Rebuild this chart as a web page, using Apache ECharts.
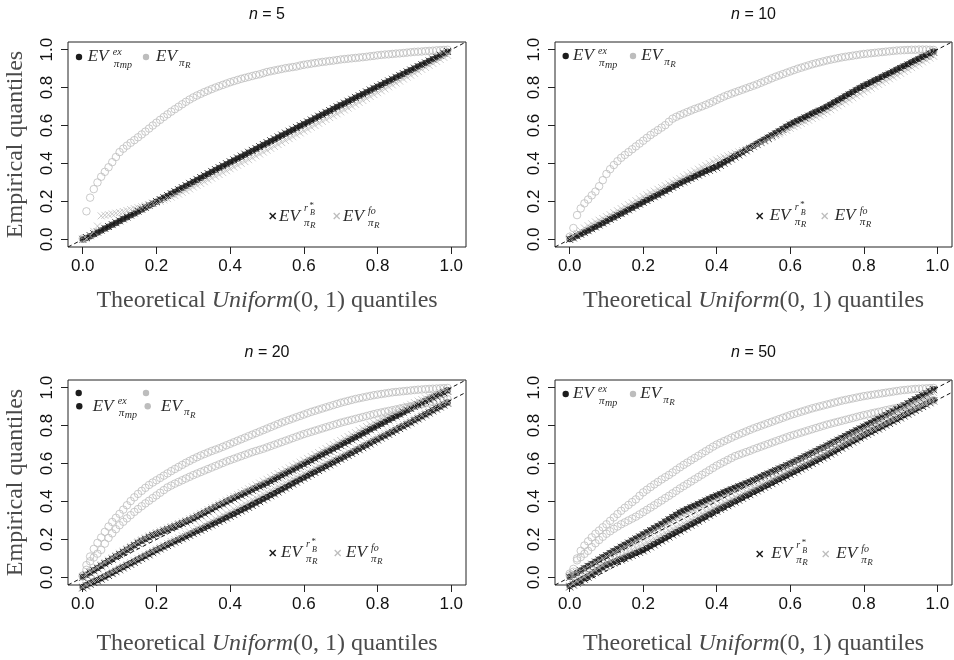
<!DOCTYPE html>
<html>
<head>
<meta charset="utf-8">
<script src="https://cdn.jsdelivr.net/npm/echarts@6/dist/echarts.min.js"></script>
<style>
  html, body { margin: 0; padding: 0; background: #fff; }
  #chart { width: 954px; height: 660px; }
</style>
</head>
<body>
<div id="chart"></div>
<script>
// quantile positions (x) shared by every series
const probs = [
  0.00,0.01,0.02,0.03,0.04,0.05,0.06,0.07,0.08,0.09,
  0.10,0.11,0.12,0.13,0.14,0.15,0.16,0.17,0.18,0.19,
  0.20,0.21,0.22,0.23,0.24,0.25,0.26,0.27,0.28,0.29,
  0.30,0.31,0.32,0.33,0.34,0.35,0.36,0.37,0.38,0.39,
  0.40,0.41,0.42,0.43,0.44,0.45,0.46,0.47,0.48,0.49,
  0.50,0.51,0.52,0.53,0.54,0.55,0.56,0.57,0.58,0.59,
  0.60,0.61,0.62,0.63,0.64,0.65,0.66,0.67,0.68,0.69,
  0.70,0.71,0.72,0.73,0.74,0.75,0.76,0.77,0.78,0.79,
  0.80,0.81,0.82,0.83,0.84,0.85,0.86,0.87,0.88,0.89,
  0.90,0.91,0.92,0.93,0.94,0.95,0.96,0.97,0.98,0.99
]
const ticks = [0, 0.2, 0.4, 0.6, 0.8, 1.0]

// n = 5
const ex5 = [.000,.008,.017,.027,.037,.047,.057,.067,.077,.087,.097,.107,.117,.127,.137,.147,.157,.168,.178,.188,.198,.209,.219,.229,.240,.250,.261,.271,.282,.292,.303,.313,.324,.334,.345,.355,.366,.376,.386,.396,.406,.416,.426,.436,.446,.456,.466,.476,.487,.497,.507,.517,.527,.537,.547,.557,.567,.577,.587,.597,.607,.617,.627,.637,.647,.657,.667,.677,.687,.697,.707,.716,.726,.736,.746,.756,.765,.775,.785,.795,.804,.814,.824,.833,.843,.853,.862,.872,.882,.891,.901,.911,.920,.930,.940,.949,.959,.969,.979,.989]
const R5 = [.005,.148,.220,.265,.300,.330,.356,.380,.407,.434,.460,.478,.494,.509,.523,.538,.553,.568,.584,.600,.615,.630,.645,.659,.673,.686,.699,.712,.725,.737,.748,.758,.767,.776,.784,.792,.800,.807,.814,.821,.828,.834,.840,.846,.851,.856,.861,.866,.870,.876,.882,.886,.890,.894,.898,.902,.905,.908,.911,.916,.920,.923,.926,.929,.932,.935,.937,.940,.942,.945,.948,.950,.952,.954,.956,.958,.960,.962,.965,.967,.970,.972,.974,.975,.977,.979,.980,.982,.984,.986,.988,.989,.990,.992,.993,.994,.996,.997,.998,.999]
const rB5 = [.000,.010,.020,.030,.039,.049,.058,.068,.078,.088,.098,.108,.118,.128,.139,.149,.159,.169,.180,.190,.200,.210,.220,.231,.241,.252,.262,.273,.284,.295,.305,.316,.326,.337,.347,.358,.368,.378,.389,.399,.409,.419,.429,.439,.449,.459,.469,.479,.489,.500,.510,.520,.530,.540,.550,.560,.570,.580,.590,.600,.609,.619,.629,.639,.649,.659,.669,.679,.689,.699,.708,.718,.728,.738,.748,.757,.767,.777,.787,.796,.806,.815,.825,.835,.844,.854,.864,.873,.883,.892,.902,.911,.921,.930,.940,.950,.960,.970,.980,.990]
const fo5 = [.000,.004,.020,.042,.070,.124,.127,.130,.134,.138,.142,.147,.152,.157,.162,.167,.172,.177,.183,.189,.195,.201,.208,.215,.223,.231,.239,.248,.257,.266,.276,.285,.295,.304,.314,.323,.333,.342,.352,.362,.372,.381,.391,.401,.410,.420,.430,.440,.450,.460,.470,.480,.490,.500,.510,.521,.531,.541,.551,.561,.571,.581,.591,.601,.612,.622,.632,.642,.652,.662,.672,.682,.692,.702,.712,.722,.732,.742,.753,.763,.773,.783,.793,.804,.814,.824,.834,.845,.855,.865,.875,.886,.896,.906,.917,.927,.938,.948,.959,.970]

// n = 10
const ex10 = [.002,.010,.019,.028,.038,.047,.057,.067,.077,.087,.097,.107,.117,.127,.137,.147,.157,.167,.177,.187,.197,.207,.217,.227,.237,.247,.257,.267,.277,.287,.297,.306,.315,.324,.333,.342,.351,.360,.368,.376,.384,.395,.406,.417,.428,.439,.450,.461,.472,.483,.494,.505,.516,.527,.538,.549,.560,.571,.583,.595,.606,.616,.625,.635,.644,.653,.663,.672,.681,.690,.700,.711,.722,.733,.744,.755,.766,.777,.788,.799,.809,.819,.828,.838,.847,.857,.866,.876,.885,.895,.904,.914,.923,.933,.942,.952,.962,.971,.981,.990]
const R10 = [.014,.060,.128,.163,.190,.210,.232,.252,.280,.312,.345,.370,.392,.412,.430,.445,.460,.475,.490,.505,.520,.535,.550,.563,.576,.589,.602,.620,.636,.646,.655,.663,.671,.679,.687,.694,.701,.709,.717,.726,.735,.744,.753,.761,.768,.775,.782,.789,.796,.803,.810,.817,.825,.833,.841,.849,.857,.864,.871,.878,.885,.892,.899,.905,.911,.917,.923,.928,.933,.938,.943,.947,.951,.955,.959,.962,.965,.968,.971,.974,.977,.979,.981,.983,.985,.987,.989,.991,.993,.995,.996,.997,.998,.999,.999,1.00,1.00,1.00,.999,.998]
const rB10 = [.000,.008,.018,.027,.036,.046,.056,.066,.076,.086,.096,.106,.116,.126,.136,.146,.156,.166,.176,.186,.195,.205,.215,.225,.235,.245,.255,.265,.275,.285,.294,.303,.312,.321,.330,.339,.348,.356,.364,.371,.378,.390,.401,.412,.423,.434,.445,.456,.467,.478,.489,.500,.511,.522,.533,.545,.556,.567,.579,.591,.603,.612,.621,.630,.640,.649,.658,.667,.676,.685,.695,.706,.717,.728,.739,.750,.761,.772,.783,.794,.805,.814,.824,.833,.843,.852,.862,.871,.881,.890,.900,.909,.919,.928,.938,.947,.957,.966,.976,.986]
const fo10 = [.005,.018,.032,.046,.060,.072,.082,.092,.101,.110,.120,.130,.141,.151,.162,.172,.183,.193,.204,.214,.225,.235,.245,.254,.264,.273,.283,.292,.302,.311,.320,.330,.340,.350,.360,.370,.380,.390,.399,.409,.418,.426,.433,.440,.447,.454,.461,.468,.475,.482,.490,.499,.509,.518,.528,.537,.547,.556,.566,.575,.585,.594,.602,.611,.620,.628,.637,.646,.655,.664,.673,.683,.694,.704,.715,.725,.736,.746,.757,.767,.778,.788,.797,.807,.817,.827,.836,.846,.856,.865,.875,.885,.895,.905,.915,.925,.935,.945,.955,.965]

// n = 20 (two settings: a = upper group, b = lower group)
const ex20a = [.002,.014,.026,.038,.050,.062,.074,.086,.098,.110,.122,.134,.146,.158,.170,.182,.193,.203,.213,.222,.230,.238,.246,.254,.262,.270,.278,.286,.294,.303,.312,.321,.331,.341,.351,.361,.371,.381,.390,.400,.409,.418,.427,.436,.445,.454,.463,.472,.481,.490,.499,.509,.519,.529,.539,.549,.559,.569,.579,.589,.599,.609,.619,.629,.639,.649,.659,.669,.679,.689,.699,.709,.719,.729,.739,.749,.759,.769,.780,.790,.800,.810,.820,.830,.840,.850,.860,.870,.880,.890,.900,.910,.920,.930,.939,.949,.958,.968,.977,.986]
const ex20b = [-.050,-.040,-.031,-.022,-.013,-.004,.005,.015,.025,.035,.045,.055,.065,.074,.084,.094,.104,.114,.124,.134,.144,.154,.163,.172,.181,.190,.199,.208,.217,.226,.235,.244,.253,.262,.271,.280,.289,.298,.308,.317,.327,.336,.346,.355,.365,.374,.384,.394,.404,.414,.424,.434,.444,.455,.465,.475,.486,.496,.507,.517,.527,.537,.547,.557,.567,.577,.587,.597,.607,.617,.627,.637,.647,.657,.667,.678,.688,.698,.708,.718,.728,.738,.748,.758,.768,.778,.788,.798,.808,.818,.829,.839,.849,.860,.870,.880,.891,.901,.911,.921]
const R20a = [.010,.065,.110,.150,.182,.210,.240,.268,.292,.314,.335,.357,.380,.402,.422,.440,.456,.472,.487,.500,.512,.524,.536,.548,.560,.571,.582,.593,.604,.614,.624,.633,.642,.650,.658,.666,.673,.680,.688,.696,.704,.712,.720,.728,.736,.744,.752,.760,.768,.776,.784,.792,.800,.808,.816,.823,.830,.837,.844,.851,.858,.865,.872,.878,.884,.890,.896,.902,.908,.914,.920,.925,.930,.935,.940,.944,.948,.952,.956,.960,.963,.966,.969,.972,.975,.977,.979,.981,.983,.985,.987,.989,.990,.992,.993,.994,.995,.996,.997,.998]
const R20b = [.005,.040,.085,.105,.125,.145,.178,.208,.232,.254,.275,.293,.311,.328,.345,.360,.375,.390,.404,.418,.432,.446,.460,.474,.484,.494,.503,.512,.521,.530,.539,.547,.555,.563,.571,.579,.587,.595,.603,.611,.618,.625,.632,.639,.646,.653,.660,.666,.672,.678,.685,.692,.699,.706,.713,.720,.727,.734,.741,.748,.755,.761,.767,.773,.779,.785,.791,.797,.803,.809,.815,.820,.825,.830,.835,.840,.845,.850,.855,.860,.865,.869,.873,.877,.881,.885,.889,.893,.897,.901,.905,.909,.913,.917,.921,.925,.929,.933,.936,.939]
const rB20a = [.000,.012,.024,.036,.048,.060,.072,.084,.096,.108,.120,.132,.144,.156,.168,.180,.191,.201,.211,.220,.228,.236,.244,.252,.260,.268,.276,.284,.292,.300,.309,.318,.327,.337,.347,.357,.367,.377,.386,.396,.405,.414,.423,.432,.441,.450,.459,.468,.477,.486,.495,.505,.515,.525,.535,.545,.555,.565,.575,.585,.595,.605,.615,.625,.635,.645,.655,.665,.675,.685,.695,.705,.716,.726,.737,.747,.758,.768,.779,.789,.800,.810,.820,.830,.840,.850,.860,.870,.880,.890,.900,.909,.918,.927,.936,.945,.954,.963,.972,.981]
const rB20b = [-.055,-.045,-.036,-.027,-.018,-.009,.000,.010,.020,.030,.040,.050,.060,.069,.079,.089,.099,.109,.119,.130,.140,.150,.159,.168,.177,.186,.195,.204,.213,.222,.231,.240,.249,.258,.267,.276,.285,.294,.303,.313,.322,.331,.341,.350,.360,.369,.379,.389,.399,.409,.420,.430,.440,.450,.461,.471,.481,.492,.502,.513,.523,.533,.543,.553,.563,.573,.583,.593,.603,.613,.623,.633,.643,.653,.663,.673,.683,.693,.703,.714,.724,.734,.744,.754,.764,.774,.784,.794,.804,.814,.825,.835,.845,.856,.866,.877,.887,.898,.908,.918]
const fo20a = [.003,.015,.028,.041,.054,.067,.079,.091,.103,.115,.127,.139,.151,.163,.175,.187,.198,.208,.218,.227,.236,.244,.252,.260,.268,.276,.284,.292,.300,.309,.318,.327,.337,.347,.357,.367,.377,.387,.397,.407,.417,.427,.437,.447,.457,.467,.477,.487,.497,.507,.517,.527,.537,.547,.557,.567,.577,.587,.597,.607,.617,.627,.637,.648,.658,.669,.679,.690,.700,.711,.721,.732,.742,.753,.763,.774,.784,.795,.805,.815,.825,.835,.845,.855,.865,.875,.885,.894,.903,.912,.921,.929,.937,.945,.953,.961,.968,.975,.982,.989]
const fo20b = [-.050,-.040,-.030,-.020,-.011,-.002,.008,.018,.028,.038,.048,.058,.068,.078,.088,.098,.108,.118,.128,.139,.149,.159,.169,.179,.189,.199,.209,.219,.229,.239,.249,.259,.269,.279,.289,.299,.309,.319,.329,.339,.349,.359,.369,.379,.389,.399,.409,.419,.429,.439,.449,.459,.469,.479,.489,.499,.509,.519,.529,.539,.549,.558,.568,.577,.587,.596,.606,.615,.625,.634,.644,.653,.663,.672,.682,.691,.701,.710,.720,.729,.739,.748,.758,.767,.777,.786,.796,.806,.815,.825,.835,.845,.855,.865,.875,.885,.895,.905,.915,.925]

// n = 50
const ex50a = [.003,.014,.025,.037,.048,.060,.071,.083,.094,.106,.117,.128,.139,.150,.161,.172,.183,.194,.205,.216,.227,.238,.249,.260,.271,.282,.294,.306,.318,.330,.342,.351,.360,.369,.378,.387,.396,.405,.414,.423,.432,.440,.448,.456,.464,.472,.480,.488,.496,.504,.512,.521,.530,.539,.547,.556,.565,.574,.582,.591,.600,.609,.619,.628,.638,.647,.657,.666,.676,.685,.695,.705,.715,.725,.735,.745,.755,.765,.775,.785,.795,.805,.815,.825,.836,.846,.856,.866,.876,.887,.897,.907,.918,.928,.939,.949,.960,.970,.981,.991]
const ex50b = [-.045,-.035,-.025,-.015,-.005,.006,.018,.030,.042,.054,.065,.073,.081,.089,.097,.105,.113,.121,.129,.137,.145,.155,.166,.176,.187,.197,.208,.218,.229,.239,.249,.259,.270,.280,.291,.301,.312,.322,.333,.343,.354,.364,.373,.383,.393,.402,.412,.422,.432,.441,.451,.461,.470,.480,.489,.499,.509,.518,.528,.537,.547,.557,.566,.576,.586,.595,.605,.615,.625,.634,.644,.655,.665,.676,.686,.697,.707,.718,.728,.739,.749,.759,.768,.778,.787,.797,.807,.816,.826,.835,.845,.855,.865,.875,.885,.895,.905,.915,.925,.935]
const R50a = [.020,.045,.100,.140,.168,.190,.211,.230,.247,.264,.280,.298,.316,.334,.351,.367,.382,.397,.411,.430,.448,.462,.476,.490,.503,.516,.528,.540,.553,.567,.580,.593,.605,.617,.629,.641,.653,.665,.677,.689,.700,.709,.718,.727,.736,.745,.753,.761,.769,.777,.785,.792,.799,.806,.813,.820,.827,.834,.841,.848,.855,.861,.867,.873,.879,.885,.891,.896,.901,.906,.911,.916,.921,.926,.931,.935,.939,.943,.947,.951,.955,.958,.961,.964,.967,.970,.973,.976,.979,.982,.985,.987,.989,.991,.993,.994,.995,.996,.997,.998]
const R50b = [.010,.030,.090,.107,.124,.140,.160,.180,.197,.214,.230,.243,.256,.268,.280,.290,.300,.310,.320,.332,.344,.356,.368,.380,.393,.405,.418,.430,.443,.456,.469,.481,.493,.505,.517,.529,.541,.553,.565,.577,.589,.599,.609,.619,.629,.639,.646,.653,.660,.667,.675,.682,.689,.696,.703,.710,.717,.724,.731,.738,.745,.751,.757,.763,.769,.775,.781,.787,.793,.799,.805,.810,.815,.820,.825,.830,.835,.840,.845,.850,.855,.859,.864,.868,.872,.876,.881,.885,.889,.893,.897,.901,.905,.909,.913,.917,.921,.925,.929,.933]
const rB50a = [.000,.012,.023,.035,.046,.058,.069,.081,.092,.104,.115,.126,.137,.148,.159,.170,.181,.192,.203,.214,.225,.236,.247,.258,.269,.280,.292,.304,.316,.328,.340,.349,.358,.367,.376,.385,.394,.403,.412,.421,.430,.438,.446,.454,.462,.470,.478,.486,.494,.502,.510,.519,.528,.537,.545,.554,.563,.572,.580,.589,.598,.607,.617,.626,.636,.645,.655,.664,.674,.683,.693,.703,.713,.723,.733,.743,.753,.763,.773,.783,.793,.803,.813,.823,.834,.844,.854,.864,.874,.885,.895,.905,.916,.926,.937,.947,.958,.968,.979,.989]
const rB50b = [-.050,-.040,-.030,-.020,-.010,.001,.013,.025,.037,.049,.060,.068,.076,.084,.092,.100,.108,.116,.124,.132,.140,.150,.161,.171,.182,.192,.203,.213,.224,.234,.244,.254,.265,.275,.286,.296,.307,.317,.328,.338,.349,.359,.368,.378,.388,.397,.407,.417,.427,.436,.446,.456,.465,.475,.484,.494,.504,.513,.523,.532,.542,.552,.561,.571,.581,.590,.600,.610,.620,.629,.639,.650,.660,.671,.681,.692,.702,.713,.723,.734,.744,.754,.763,.773,.782,.792,.802,.811,.821,.830,.840,.850,.860,.870,.880,.890,.900,.910,.920,.930]
const fo50a = [.002,.012,.022,.033,.044,.055,.066,.077,.088,.099,.110,.120,.131,.141,.152,.162,.173,.183,.194,.204,.215,.226,.236,.247,.257,.268,.278,.289,.299,.310,.320,.329,.338,.347,.356,.365,.374,.383,.392,.401,.410,.419,.428,.437,.446,.455,.464,.473,.482,.491,.500,.510,.519,.529,.538,.548,.557,.567,.576,.586,.595,.605,.614,.624,.633,.643,.652,.662,.671,.681,.690,.700,.709,.719,.728,.738,.747,.757,.766,.776,.785,.795,.805,.815,.825,.835,.845,.855,.865,.875,.885,.895,.905,.914,.924,.934,.944,.954,.964,.974]
const fo50b = [-.045,-.033,-.021,-.009,.003,.015,.027,.039,.051,.063,.075,.085,.095,.105,.115,.125,.135,.145,.155,.165,.175,.185,.195,.205,.215,.225,.235,.245,.255,.265,.275,.285,.295,.305,.315,.325,.335,.345,.355,.365,.375,.385,.395,.404,.414,.423,.433,.442,.452,.461,.471,.480,.490,.499,.509,.518,.528,.537,.547,.556,.566,.575,.584,.594,.603,.612,.622,.631,.640,.650,.659,.668,.678,.687,.697,.706,.716,.725,.734,.744,.753,.762,.772,.781,.791,.800,.810,.819,.829,.838,.848,.857,.867,.876,.886,.895,.904,.913,.922,.931]

// dashed reference lines: x end points and y end points
const refX = [-0.04, 1.04]
const diagY = [-0.04, 1.04]
const shiftY = [-0.105, 0.975]

const DARK = '#1c1c1c'
const GRAY = '#bdbdbd'
const SERIF = '"Liberation Serif", "DejaVu Serif", serif'
const SANS = '"Liberation Sans", Arial, sans-serif'
const CROSS = 'path://M0,0L10,10M10,0L0,10'

// panel layout + which arrays go where
const panels = [
    { n: '5', left: 68, top: 42, width: 398, yName: true, ex: [ex5], R: [R5], rB: [rB5], fo: [fo5], lines: [diagY], nameGap: 42,
      leg: { dots: [[11, 15, 78, 15]], ex: [19.7, 14.7], R: [88, 14.7], cross: [204.7, 174, 268.7], rB: [211, 174.7], fo: [275, 174.7] } },
    { n: '10', left: 555, top: 42, width: 397, yName: false, ex: [ex10], R: [R10], rB: [rB10], fo: [fo10], lines: [diagY], nameGap: 42,
      leg: { dots: [[10.7, 14, 78, 14]], ex: [18, 14], R: [86.3, 14], cross: [204.7, 174, 269.7], rB: [214.7, 174], fo: [279.7, 174] } },
    { n: '20', left: 68, top: 380, width: 398, yName: true, ex: [ex20a, ex20b], R: [R20a, R20b], rB: [rB20a, rB20b], fo: [fo20a, fo20b], lines: [diagY, shiftY], nameGap: 47,
      leg: { dots: [[10.7, 13, 78, 13], [11.3, 26.3, 79.7, 26.3]], ex: [24.7, 26.3], R: [93, 26.3], cross: [204.7, 173, 269.7], rB: [213, 173], fo: [278, 173] } },
    { n: '50', left: 555, top: 380, width: 397, yName: false, ex: [ex50a, ex50b], R: [R50a, R50b], rB: [rB50a, rB50b], fo: [fo50a, fo50b], lines: [diagY, shiftY], nameGap: 47,
      leg: { dots: [[10.7, 14, 78, 14]], ex: [18, 14], R: [85.3, 14], cross: [204.7, 174, 270.7], rB: [216.3, 174], fo: [281.3, 174] } }
]

function pts(v) {
    return probs.map((x, i) => [x, v[i]])
}

let grids = [], xAxes = [], yAxes = [], series = [], graphics = []

panels.forEach((p, k) => {
    grids.push({ left: p.left, top: p.top, width: p.width, height: 205, show: true,
        borderColor: '#222', borderWidth: 1, backgroundColor: 'transparent', outerBoundsMode: 'none' })

    xAxes.push({
        type: 'value', gridIndex: k, min: -0.04, max: 1.04,
        splitLine: { show: false },
        axisLine: { show: false, onZero: false },
        axisTick: { show: true, customValues: ticks, length: 7, lineStyle: { color: '#222' } },
        axisLabel: { customValues: ticks, margin: 11, fontFamily: SANS, fontSize: 17, color: '#111',
            formatter: v => v.toFixed(1) },
        name: '{r|Theoretical }{i|Uniform}{r|(0, 1) quantiles}',
        nameLocation: 'middle', nameGap: p.nameGap,
        nameTextStyle: { rich: {
            r: { fontFamily: SERIF, fontSize: 24, color: '#4a4a4a' },
            i: { fontFamily: SERIF, fontStyle: 'italic', fontSize: 24, color: '#4a4a4a' }
        } }
    })

    yAxes.push({
        type: 'value', gridIndex: k, min: -0.04, max: 1.04,
        splitLine: { show: false },
        axisLine: { show: false, onZero: false },
        axisTick: { show: true, customValues: ticks, length: 7, lineStyle: { color: '#222' } },
        axisLabel: { customValues: ticks, margin: 12, rotate: 90, fontFamily: SANS, fontSize: 17, color: '#111',
            formatter: v => v.toFixed(1) },
        name: p.yName ? 'Empirical quantiles' : '',
        nameLocation: 'middle', nameGap: 40, nameRotate: 90,
        nameTextStyle: { fontFamily: SERIF, fontSize: 24, color: '#4a4a4a' }
    })

    const base = { type: 'scatter', xAxisIndex: k, yAxisIndex: k, silent: true, clip: false }
    p.ex.forEach(v => series.push({ ...base, data: pts(v), symbol: 'circle', symbolSize: 6.5,
        itemStyle: { color: DARK } }))
    p.R.forEach(v => series.push({ ...base, data: pts(v), symbol: 'circle', symbolSize: 7.5,
        itemStyle: { color: 'rgba(0,0,0,0)', borderColor: GRAY, borderWidth: 1 } }))
    p.rB.forEach(v => series.push({ ...base, data: pts(v), symbol: CROSS, symbolSize: 7,
        itemStyle: { color: DARK, borderColor: DARK, borderWidth: 1 } }))
    p.fo.forEach(v => series.push({ ...base, data: pts(v), symbol: CROSS, symbolSize: 7,
        itemStyle: { color: GRAY, borderColor: GRAY, borderWidth: 1 } }))
    p.lines.forEach(ly => series.push({
        type: 'line', xAxisIndex: k, yAxisIndex: k, silent: true, clip: true, symbol: 'none',
        data: [[refX[0], ly[0]], [refX[1], ly[1]]],
        lineStyle: { color: '#111', width: 1, type: [4, 3] }, z: 5
    }))

    // title
    graphics.push({ type: 'text', x: p.left + (k % 2 ? 198.5 : 199), y: p.top - 27, silent: true,
        style: { text: '{i|n}{r| = ' + p.n + '}', align: 'center', verticalAlign: 'middle',
            rich: { i: { fontFamily: SANS, fontStyle: 'italic', fontSize: 16, fill: '#111' },
                    r: { fontFamily: SANS, fontSize: 16, fill: '#111' } } } })

    // legends (drawn as plain shapes + math-like text pieces)
    const L = p.left, T = p.top, g = p.leg
    g.dots.forEach(d => {
        graphics.push(dot(L + d[0], T + d[1], DARK), dot(L + d[2], T + d[3], GRAY))
    })
    graphics.push(...exLabel(L + g.ex[0], T + g.ex[1]), ...rLabel(L + g.R[0], T + g.R[1]))
    graphics.push(...cross(L + g.cross[0], T + g.cross[1], DARK, 1.5), ...cross(L + g.cross[2], T + g.cross[1], GRAY, 1.3))
    graphics.push(...rbLabel(L + g.rB[0], T + g.rB[1]), ...foLabel(L + g.fo[0], T + g.fo[1]))
})

function dot(cx, cy, color) {
    return { type: 'circle', silent: true, shape: { cx: cx, cy: cy, r: 3.2 }, style: { fill: color } }
}
function cross(cx, cy, color, w) {
    const s = 3
    return [
        { type: 'line', silent: true, shape: { x1: cx - s, y1: cy - s, x2: cx + s, y2: cy + s }, style: { stroke: color, lineWidth: w } },
        { type: 'line', silent: true, shape: { x1: cx - s, y1: cy + s, x2: cx + s, y2: cy - s }, style: { stroke: color, lineWidth: w } }
    ]
}
function t(x, y, s, size) {
    return { type: 'text', x: x, y: y, silent: true,
        style: { text: s, fontFamily: SERIF, fontStyle: 'italic', fontSize: size, fill: '#2a2a2a', align: 'left', verticalAlign: 'middle' } }
}
function exLabel(x, y) {
    return [t(x, y, 'EV', 17), t(x + 25, y - 4.5, 'ex', 10), t(x + 26, y + 7, 'π', 11), t(x + 32, y + 9, 'mp', 10)]
}
function rLabel(x, y) {
    return [t(x, y, 'EV', 17), t(x + 23, y + 6, 'π', 11), t(x + 29, y + 9, 'R', 9)]
}
function rbLabel(x, y) {
    return [t(x, y, 'EV', 17), t(x + 25, y - 8.5, 'r', 10), t(x + 30, y - 11, '*', 9), t(x + 31, y - 3.5, 'B', 8),
        t(x + 25, y + 6, 'π', 11), t(x + 31, y + 9, 'R', 9)]
}
function foLabel(x, y) {
    return [t(x, y, 'EV', 17), t(x + 25, y - 5, 'fo', 10), t(x + 25, y + 6, 'π', 11), t(x + 31, y + 9, 'R', 9)]
}

let myChart = echarts.init(document.getElementById('chart'))
myChart.setOption({
    animation: false,
    backgroundColor: '#fff',
    grid: grids,
    xAxis: xAxes,
    yAxis: yAxes,
    series: series,
    graphic: graphics
})
</script>
</body>
</html>
